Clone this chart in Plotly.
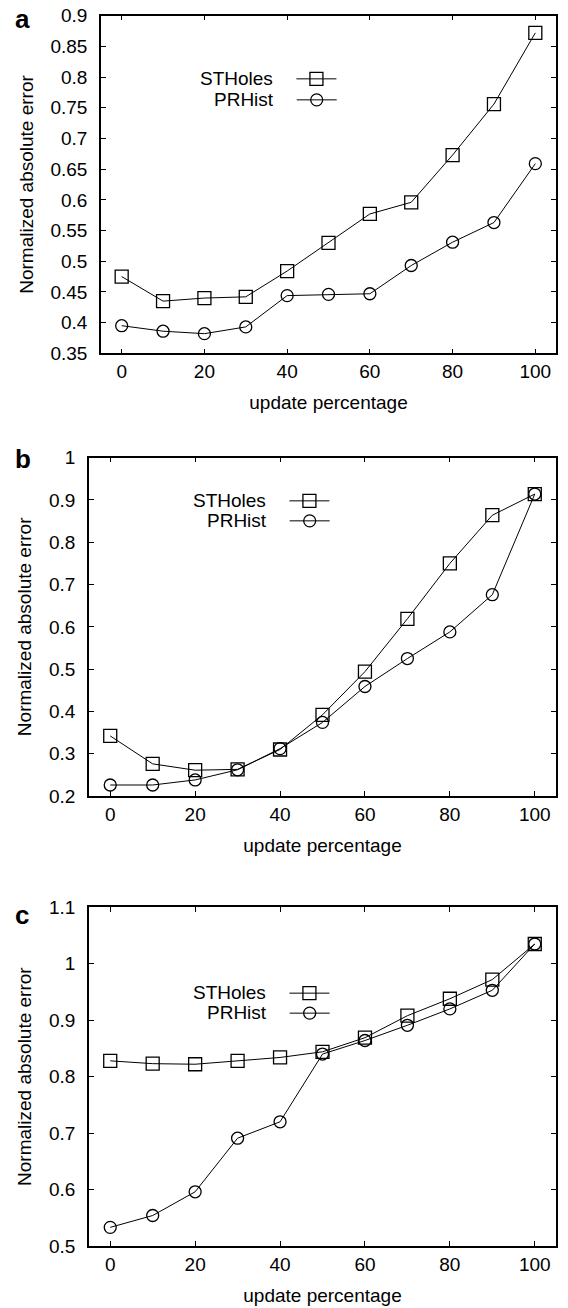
import plotly.graph_objects as go

# ---------------- data ----------------
update_pct = [0, 10, 20, 30, 40, 50, 60, 70, 80, 90, 100]

a_stholes = [0.475, 0.435, 0.440, 0.442, 0.484, 0.530, 0.577, 0.596, 0.673, 0.756, 0.872]
a_prhist = [0.395, 0.386, 0.382, 0.393, 0.444, 0.446, 0.447, 0.493, 0.531, 0.563, 0.659]

b_stholes = [0.342, 0.276, 0.261, 0.263, 0.310, 0.392, 0.494, 0.619, 0.750, 0.864, 0.914]
b_prhist = [0.226, 0.226, 0.238, 0.262, 0.312, 0.374, 0.459, 0.525, 0.588, 0.676, 0.914]

c_stholes = [0.828, 0.823, 0.822, 0.828, 0.834, 0.844, 0.869, 0.908, 0.938, 0.972, 1.035]
c_prhist = [0.533, 0.554, 0.596, 0.691, 0.720, 0.840, 0.864, 0.891, 0.920, 0.953, 1.035]

series_names = ["STHoles", "PRHist"]
panel_letters = ["a", "b", "c"]

x_tickvals = [0, 20, 40, 60, 80, 100]
x_ticktext = ["0", "20", "40", "60", "80", "100"]

a_tickvals = [0.35, 0.40, 0.45, 0.50, 0.55, 0.60, 0.65, 0.70, 0.75, 0.80, 0.85, 0.90]
a_ticktext = ["0.35", "0.4", "0.45", "0.5", "0.55", "0.6", "0.65", "0.7", "0.75", "0.8", "0.85", "0.9"]
b_tickvals = [0.2, 0.3, 0.4, 0.5, 0.6, 0.7, 0.8, 0.9, 1.0]
b_ticktext = ["0.2", "0.3", "0.4", "0.5", "0.6", "0.7", "0.8", "0.9", "1"]
c_tickvals = [0.5, 0.6, 0.7, 0.8, 0.9, 1.0, 1.1]
c_ticktext = ["0.5", "0.6", "0.7", "0.8", "0.9", "1", "1.1"]

x_title = "update percentage"
y_title = "Normalized absolute error"

# ---------------- style / layout ----------------
W, H = 568, 1308
FONT = "Liberation Sans, Arial, Helvetica, sans-serif"
FS = 19
TICK_FS = 19

# panel plot-area pixel boxes: (left, right, top, bottom)
boxes = [(101, 556, 15.7, 353.3), (89, 556, 457.7, 796), (89, 556, 907.3, 1246)]
yranges = [[0.35, 0.9], [0.2, 1.0], [0.5, 1.1]]
yticks = [(a_tickvals, a_ticktext), (b_tickvals, b_ticktext), (c_tickvals, c_ticktext)]
panels = [(a_stholes, a_prhist), (b_stholes, b_prhist), (c_stholes, c_prhist)]
# legend rows (pixel y centres) and legend right edge (pixel x)
legend_rows = [(79.0, 100.0), (501.0, 521.0), (993.3, 1013.3)]
legend_right = [347, 340, 340]
letter_y = [19.4, 459.0, 915.2]
GAP = "\u00a0\u00a0"

symbols = ["square-open", "circle-open"]
msizes = [13, 12]

fig = go.Figure()
layout = dict(
    width=W, height=H,
    margin=dict(l=0, r=0, t=0, b=0),
    paper_bgcolor="white", plot_bgcolor="white",
    font=dict(family=FONT, size=FS, color="black"),
    showlegend=True,
    annotations=[],
)

leg_idx = 0
for p, (box, yr, (tv, tt), data) in enumerate(zip(boxes, yranges, yticks, panels)):
    l, r, t, b = box
    sfx = "" if p == 0 else str(p + 1)
    xa, ya = "x" + sfx, "y" + sfx
    axis_common = dict(
        showline=True, linecolor="black", linewidth=1.5, mirror="allticks",
        ticks="inside", ticklen=5, tickwidth=1, tickcolor="black",
        showgrid=False, zeroline=False, automargin=False,
        tickfont=dict(family=FONT, size=TICK_FS, color="black"),
    )
    layout["xaxis" + sfx] = dict(
        axis_common, domain=[l / W, r / W], range=[-5, 105],
        tickvals=x_tickvals, ticktext=x_ticktext, anchor=ya,
        ticklabelstandoff=0,
        title=dict(text=x_title, font=dict(family=FONT, size=FS), standoff=15),
    )
    layout["yaxis" + sfx] = dict(
        axis_common, domain=[1 - b / H, 1 - t / H], range=yr,
        tickvals=tv, ticktext=tt, anchor=xa,
        ticklabelstandoff=8,
        title=dict(text=y_title, font=dict(family=FONT, size=FS), standoff=12),
    )
    for s, (vals, name) in enumerate(zip(data, series_names)):
        leg_idx += 1
        lname = "legend" if leg_idx == 1 else "legend" + str(leg_idx)
        fig.add_trace(go.Scatter(
            x=update_pct, y=vals, mode="lines+markers", name="",
            xaxis=xa, yaxis=ya, legend=lname,
            line=dict(color="black", width=1),
            marker=dict(symbol=symbols[s], size=msizes[s], color="black",
                        line=dict(width=1.3, color="black")),
            hovertemplate=name + ": %{y}<extra></extra>",
        ))
        layout[lname] = dict(
            x=legend_right[p] / W, xanchor="right",
            y=1 - legend_rows[p][s] / H, yanchor="middle",
            bgcolor="rgba(0,0,0,0)", borderwidth=0,
            font=dict(family=FONT, size=FS, color="black"),
            title=dict(text=name + GAP, side="left", font=dict(family=FONT, size=FS, color="black")),
            itemwidth=40,
        )
    layout["annotations"].append(dict(
        text="<b>" + panel_letters[p] + "</b>", xref="paper", yref="paper",
        x=13 / W, y=1 - letter_y[p] / H, xanchor="left", yanchor="middle",
        showarrow=False, font=dict(family=FONT, size=26, color="black"),
    ))

fig.update_layout(**layout)
fig.write_html(
    "out.html",
    config={"displayModeBar": False},
    post_script="document.body.style.margin='0';document.body.style.overflow='hidden';",
)
